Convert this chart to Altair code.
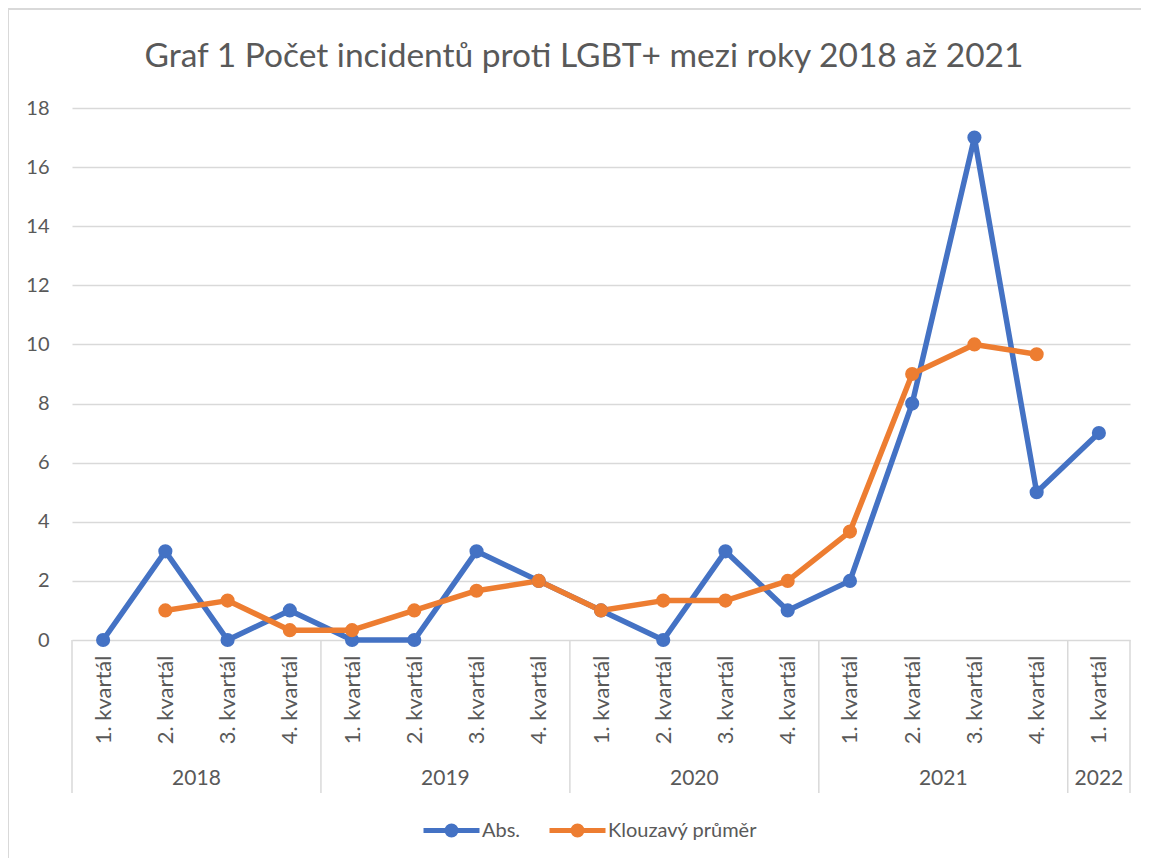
import json
import altair as alt
import pandas as pd

# ---- data ----
years = ["2018", "2018", "2018", "2018", "2019", "2019", "2019", "2019",
         "2020", "2020", "2020", "2020", "2021", "2021", "2021", "2021", "2022"]
quarters = ["1. kvartál", "2. kvartál", "3. kvartál", "4. kvartál"] * 4 + ["1. kvartál"]
abs_values = [0, 3, 0, 1, 0, 0, 3, 2, 1, 0, 3, 1, 2, 8, 17, 5, 7]
moving_avg = [None, 1.0, 1.333, 0.333, 0.333, 1.0, 1.667, 2.0, 1.0, 1.333, 1.333,
              2.0, 3.667, 9.0, 10.0, 9.667, None]
year_labels = ["2018", "2019", "2020", "2021", "2022"]
year_centers = [1.5, 5.5, 9.5, 13.5, 16.0]
year_bounds = [-0.5, 3.5, 7.5, 11.5, 15.5, 16.5]
series_names = ["Abs.", "Klouzavý průměr"]
series_colors = ["#4472C4", "#ED7D31"]
title_text = "Graf 1 Počet incidentů proti LGBT+ mezi roky 2018 až 2021"

rows = []
for i, v in enumerate(abs_values):
    rows.append({"idx": i, "value": v, "series": series_names[0]})
for i, v in enumerate(moving_avg):
    if v is not None:
        rows.append({"idx": i, "value": v, "series": series_names[1]})
df = pd.DataFrame(rows)

FONT = "Lato"
TXT = "#595959"
GRID = "#D9D9D9"
W, H = 1058, 532

xscale = alt.Scale(domain=[-0.5, 16.5], nice=False, zero=False)
yscale = alt.Scale(domain=[0, 18], nice=False)

label_expr = json.dumps(quarters, ensure_ascii=False) + "[datum.value]"

legend_path = ("M-1,0L1,0M0.16,0A0.16,0.16 0 1,1 -0.16,0"
               "A0.16,0.16 0 1,1 0.16,0Z")

color = alt.Color(
    "series:N",
    scale=alt.Scale(domain=series_names, range=series_colors),
    legend=alt.Legend(
        orient="none", legendX=349, legendY=692, direction="horizontal",
        title=None, symbolType=legend_path, symbolSize=3136,
        symbolStrokeWidth=5, labelFontSize=20, labelColor=TXT, labelFont=FONT,
        labelOffset=0, columnPadding=18,
    ),
)

base = alt.Chart(df).encode(
    x=alt.X("idx:Q", scale=xscale,
            axis=alt.Axis(values=list(range(17)), labelExpr=label_expr,
                          labelAngle=-90, labelAlign="right", labelBaseline="middle",
                          labelPadding=15, ticks=False, domain=False, grid=False,
                          title=None, labelFontSize=22, labelColor=TXT, labelFont=FONT,
                          labelOverlap=False, labelFlush=False)),
    y=alt.Y("value:Q", scale=yscale,
            axis=alt.Axis(values=list(range(0, 19, 2)), ticks=False, domain=False,
                          grid=True, gridColor=GRID, gridWidth=1.5, title=None,
                          labelFontSize=20, labelColor=TXT, labelFont=FONT,
                          labelPadding=23)),
    color=color,
)

lines = base.mark_line(strokeWidth=5.5, strokeJoin="round", strokeCap="round")
points = base.mark_point(filled=True, size=200, opacity=1)

sep_df = pd.DataFrame({"b": year_bounds})
seps = alt.Chart(sep_df).mark_rule(color=GRID, strokeWidth=1.5).encode(
    x=alt.X("b:Q", scale=xscale), y=alt.value(H), y2=alt.value(H + 153))

yr_df = pd.DataFrame({"c": year_centers, "t": year_labels})
yrs = alt.Chart(yr_df).mark_text(fontSize=21, font=FONT, color=TXT,
                                 baseline="middle", align="center").encode(
    x=alt.X("c:Q", scale=xscale), y=alt.value(H + 139), text="t:N")

border_left = alt.Chart(sep_df).mark_rule(color=GRID, strokeWidth=1.5).encode(
    x=alt.value(-64), y=alt.value(-99), y2=alt.value(H + 240))
border_top = alt.Chart(sep_df).mark_rule(color=GRID, strokeWidth=1.5).encode(
    x=alt.value(-64), x2=alt.value(W + 40), y=alt.value(-99))

title_df = pd.DataFrame({"t": [title_text]})
title = alt.Chart(title_df).mark_text(fontSize=33.5, font=FONT, color=TXT,
                                      align="center", baseline="alphabetic").encode(
    x=alt.value(512), y=alt.value(-41), text="t:N")

chart = alt.layer(border_left, border_top, title, seps, yrs, lines, points).properties(
    width=W, height=H,
    autosize=alt.AutoSizeParams(type="none"),
    padding={"left": 64, "top": 100, "right": 11, "bottom": 218},
).configure_view(stroke=None)

chart.save("out.html", embed_options={"renderer": "svg", "actions": False})
